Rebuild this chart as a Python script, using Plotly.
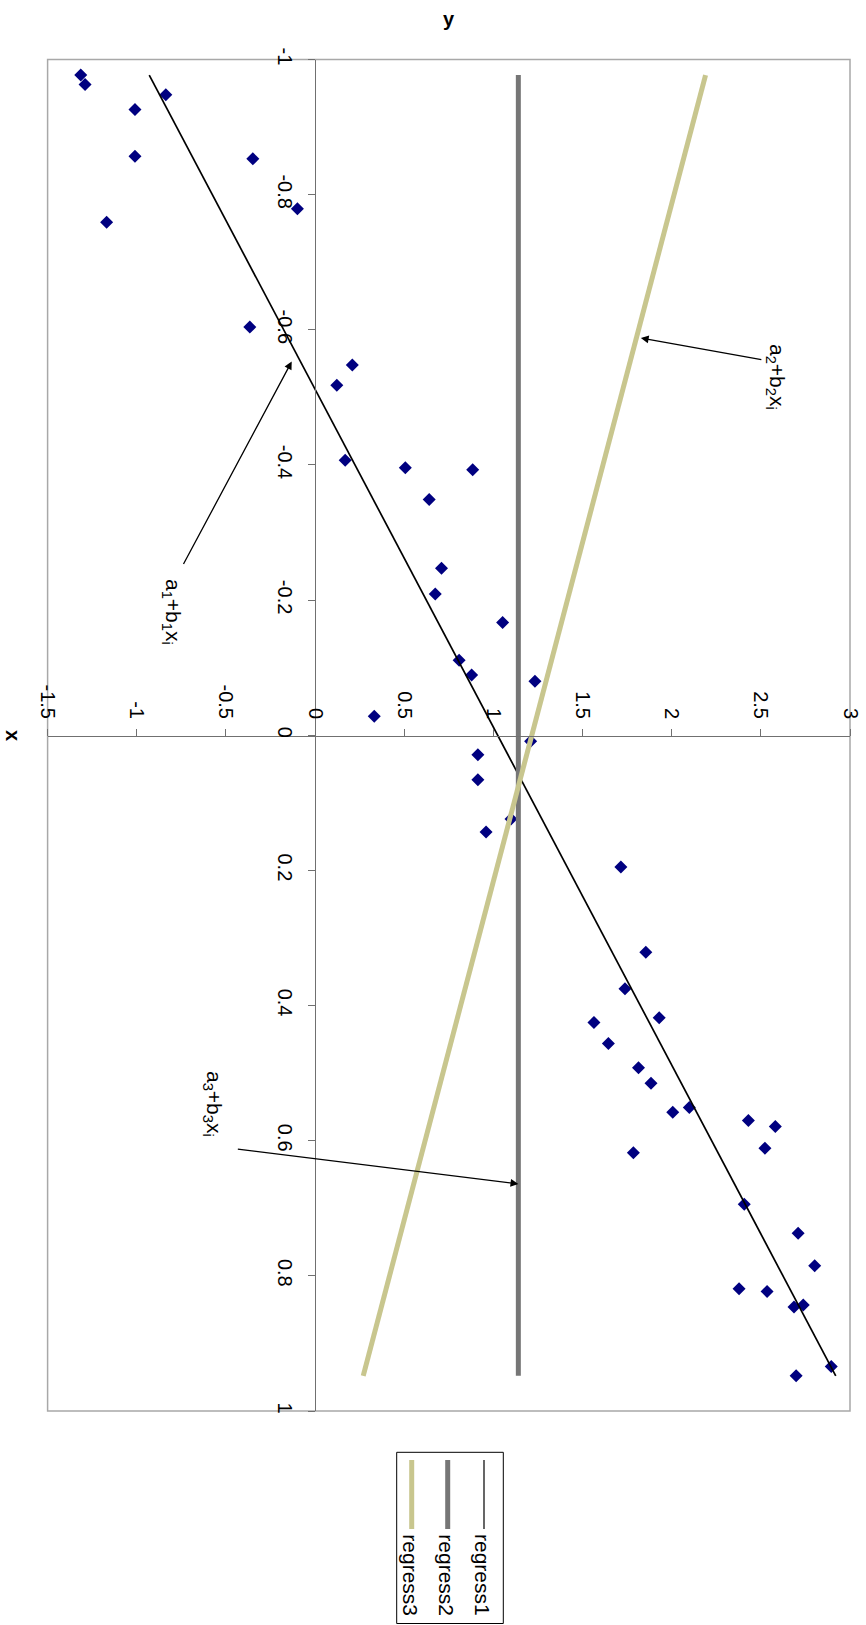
import plotly.graph_objects as go

# ---------------- data ----------------
# observed points: x value (vertical axis, downward) and y value (horizontal axis)
obs_x = [-0.977, -0.963, -0.948, -0.926, -0.857, -0.853, -0.779, -0.759, -0.604, -0.548,
         -0.518, -0.407, -0.396, -0.393, -0.349, -0.247, -0.209, -0.167, -0.111, -0.089,
         -0.080, -0.028, 0.009, 0.029, 0.066, 0.124, 0.143, 0.195, 0.321, 0.375,
         0.418, 0.425, 0.456, 0.492, 0.515, 0.551, 0.558, 0.570, 0.579, 0.611,
         0.618, 0.694, 0.737, 0.785, 0.819, 0.823, 0.843, 0.846, 0.934, 0.948]
obs_y = [-1.314, -1.290, -0.837, -1.010, -1.010, -0.349, -0.099, -1.169, -0.366, 0.209,
         0.122, 0.169, 0.506, 0.884, 0.640, 0.709, 0.674, 1.052, 0.808, 0.878,
         1.233, 0.332, 1.209, 0.913, 0.913, 1.099, 0.959, 1.715, 1.855, 1.738,
         1.930, 1.564, 1.645, 1.814, 1.884, 2.099, 2.006, 2.430, 2.581, 2.523,
         1.785, 2.407, 2.709, 2.802, 2.378, 2.535, 2.738, 2.686, 2.895, 2.698]

line_x = [-0.977, 0.948]
regress1_y = [-0.93, 2.92]
regress2_y = [1.14, 1.14]
regress3_y = [2.19, 0.27]

series_names = ["regress1", "regress2", "regress3"]

xval_ticks = [-1, -0.8, -0.6, -0.4, -0.2, 0, 0.2, 0.4, 0.6, 0.8, 1]
xval_labels = ["-1", "-0.8", "-0.6", "-0.4", "-0.2", "0", "0.2", "0.4", "0.6", "0.8", "1"]
yval_ticks = [-1.5, -1, -0.5, 0, 0.5, 1, 1.5, 2, 2.5, 3]
yval_labels = ["-1.5", "-1", "-0.5", "0", "0.5", "1", "1.5", "2", "2.5", "3"]

# ---------------- figure ----------------
W, H = 866, 1625
FONT = "Arial, Liberation Sans, sans-serif"


def px(v):
    return v / W


def py(v):
    return 1 - v / H


C_PTS = "#000080"
C_R1 = "#000000"
C_R2 = "#767676"
C_R3 = "#C8C68E"

fig = go.Figure()
fig.add_trace(go.Scatter(x=obs_y, y=obs_x, mode="markers",
                         marker=dict(symbol="diamond", size=10, color=C_PTS, line=dict(width=0)),
                         showlegend=False, hoverinfo="skip"))
fig.add_trace(go.Scatter(x=regress1_y, y=line_x, mode="lines", name=series_names[0],
                         line=dict(color=C_R1, width=1.7), showlegend=False))
fig.add_trace(go.Scatter(x=regress2_y, y=line_x, mode="lines", name=series_names[1],
                         line=dict(color=C_R2, width=5), showlegend=False))
fig.add_trace(go.Scatter(x=regress3_y, y=line_x, mode="lines", name=series_names[2],
                         line=dict(color=C_R3, width=5), showlegend=False))

axis_common = dict(showgrid=False, zeroline=False, showline=True, linecolor="#707070",
                   linewidth=1, ticks="outside", ticklen=7, tickcolor="#707070",
                   tickangle=90, tickfont=dict(family=FONT, size=20, color="#000"))

fig.update_layout(
    width=W, height=H,
    margin=dict(l=0, r=0, t=0, b=0, autoexpand=False),
    paper_bgcolor="white", plot_bgcolor="white",
    showlegend=False,
    xaxis=dict(domain=[px(47.6), px(850)], range=[-1.5, 3], anchor="free",
               position=py(736), side="top", tickmode="array",
               tickvals=yval_ticks, ticktext=yval_labels, ticklabelstandoff=3, **axis_common),
    yaxis=dict(domain=[py(1411), py(59.5)], range=[1, -1], anchor="free",
               position=px(315), side="left", tickmode="array",
               tickvals=xval_ticks, ticktext=xval_labels, ticklabelstandoff=6, **axis_common),
)

shapes = [dict(type="rect", xref="x domain", yref="y domain", x0=0, x1=1, y0=0, y1=1,
               line=dict(color="#a8a8a8", width=1.5), layer="below")]

# legend box (drawn manually because the whole chart is rotated)
shapes.append(dict(type="rect", xref="paper", yref="paper",
                   x0=px(396.7), x1=px(503.3), y0=py(1623.5), y1=py(1452.3),
                   line=dict(color="#000", width=1), fillcolor="white"))
leg_x = [484, 447.7, 411.7]
leg_col = [C_R1, C_R2, C_R3]
leg_w = [1.2, 5, 5]
annotations = []
for name, lx, c, w in zip(series_names, leg_x, leg_col, leg_w):
    shapes.append(dict(type="line", xref="paper", yref="paper", x0=px(lx), x1=px(lx),
                       y0=py(1460), y1=py(1529), line=dict(color=c, width=w)))
    annotations.append(dict(xref="paper", yref="paper", x=px(lx - 1), y=py(1575), text=name,
                            textangle=90, showarrow=False, xanchor="center", yanchor="middle",
                            font=dict(family=FONT, size=21, color="#000")))

# axis titles
annotations.append(dict(xref="paper", yref="paper", x=px(449), y=py(19), text="<b>y</b>",
                        showarrow=False, xanchor="center", yanchor="middle",
                        font=dict(family=FONT, size=20, color="#000")))
annotations.append(dict(xref="paper", yref="paper", x=px(13), y=py(735), text="<b>x</b>",
                        textangle=90, showarrow=False, xanchor="center", yanchor="middle",
                        font=dict(family=FONT, size=20, color="#000")))

# labels with arrows
lab_font = dict(family=FONT, size=21, color="#000")
labels = [
    ("a<sub>2</sub>+b<sub>2</sub>x<sub>i</sub>", 776, 377, 1.827, -0.588, 122, 22),
    ("a<sub>1</sub>+b<sub>1</sub>x<sub>i</sub>", 172, 612, -0.131, -0.553, -109, 204),
    ("a<sub>3</sub>+b<sub>3</sub>x<sub>i</sub>", 213, 1104, 1.14, 0.664, -282, -35),
]
for txt, tx, ty, hx, hy, ax, ay in labels:
    annotations.append(dict(xref="paper", yref="paper", x=px(tx), y=py(ty), text=txt,
                            textangle=90, showarrow=False, xanchor="center", yanchor="middle",
                            font=lab_font))
    annotations.append(dict(xref="x", yref="y", x=hx, y=hy, text="", showarrow=True,
                            axref="pixel", ayref="pixel", ax=ax, ay=ay,
                            arrowhead=2, arrowsize=1.2, arrowwidth=1.3, arrowcolor="#000",
                            standoff=0))

fig.update_layout(shapes=shapes, annotations=annotations)

fig.write_html("out.html", config={"displayModeBar": False},
               post_script="document.body.style.margin='0';document.body.style.overflow='hidden';")
